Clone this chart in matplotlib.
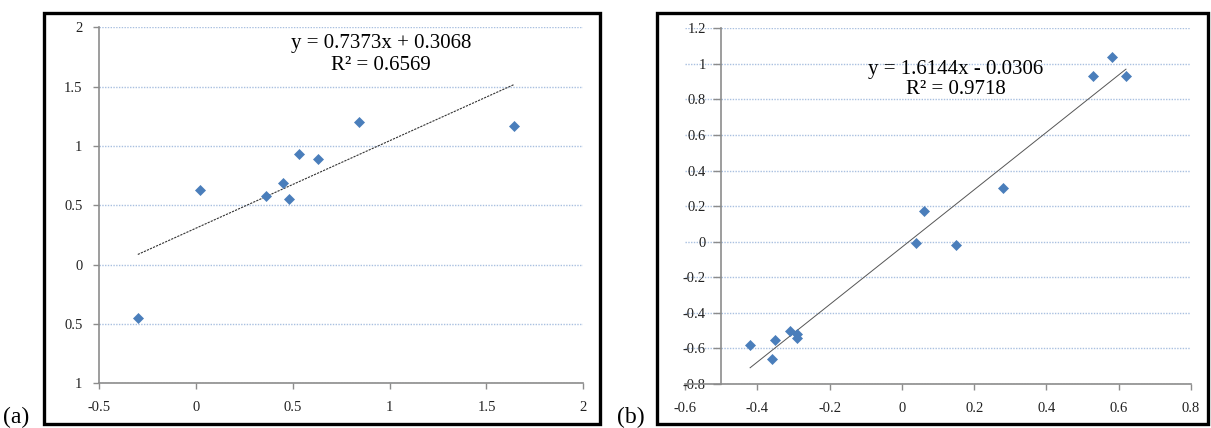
import matplotlib
matplotlib.use("Agg")
import matplotlib.pyplot as plt
from matplotlib.patches import Rectangle
import numpy as np

plt.rcParams['font.family'] = ['Liberation Serif', 'DejaVu Serif']

# panel (a) data
xa = [-0.30, 0.02, 0.36, 0.45, 0.48, 0.53, 0.63, 0.84, 1.64]
ya = [-0.45, 0.63, 0.58, 0.69, 0.55, 0.93, 0.89, 1.20, 1.17]
fit_a = (0.7373, 0.3068)
eq_a = ["y = 0.7373x + 0.3068", "R² = 0.6569"]
xticks_a = [-0.5, 0, 0.5, 1, 1.5, 2]
xlabels_a = ["-0.5", "0", "0.5", "1", "1.5", "2"]
yticks_a = [-1, -0.5, 0, 0.5, 1, 1.5, 2]
ylabels_a = ["1", "0.5", "0", "0.5", "1", "1.5", "2"]

# panel (b) data
xb = [-0.42, -0.36, -0.35, -0.31, -0.29, -0.29, 0.04, 0.06, 0.15, 0.28, 0.53, 0.58, 0.62]
yb = [-0.58, -0.66, -0.55, -0.50, -0.52, -0.54, -0.01, 0.17, -0.02, 0.30, 0.93, 1.04, 0.93]
fit_b = (1.6144, -0.0306)
eq_b = ["y = 1.6144x - 0.0306", "R² = 0.9718"]
xticks_b = [-0.6, -0.4, -0.2, 0, 0.2, 0.4, 0.6, 0.8]
xlabels_b = ["-0.6", "-0.4", "-0.2", "0", "0.2", "0.4", "0.6", "0.8"]
yticks_b = [-0.8, -0.6, -0.4, -0.2, 0, 0.2, 0.4, 0.6, 0.8, 1, 1.2]
ylabels_b = ["-0.8", "-0.6", "-0.4", "-0.2", "0", "0.2", "0.4", "0.6", "0.8", "1", "1.2"]

blue = '#4A7EBB'
grid_col = '#A9C0E0'
axis_col = '#8C8C8C'

fig = plt.figure(figsize=(12.11, 4.28), dpi=100)

def style(ax):
    for s in ['top', 'right']:
        ax.spines[s].set_visible(False)
    for s in ['left', 'bottom']:
        ax.spines[s].set_color(axis_col)
        ax.spines[s].set_linewidth(1.2)
    ax.tick_params(direction='out', color=axis_col, width=1.0, length=4,
                   labelsize=10.5, labelcolor='#222222')
    ax.tick_params(axis='x', pad=9)
    ax.tick_params(axis='y', pad=8)
    ax.yaxis.grid(True, color=grid_col, linestyle=(0, (1, 1)), linewidth=1.0)
    ax.set_axisbelow(True)

ax1 = fig.add_axes([0.0818, 0.1045, 0.3999, 0.8317])
style(ax1)
ax1.set_xlim(-0.5, 2)
ax1.set_ylim(-1, 2)
ax1.set_xticks(xticks_a, xlabels_a)
ax1.set_yticks(yticks_a, ylabels_a)
lx = np.array([min(xa), max(xa)])
ax1.plot(lx, fit_a[0] * lx + fit_a[1], color='#333333', lw=0.8, ls=(0, (2, 1)))
ax1.plot(xa, ya, ls='', marker='D', ms=5, color=blue, mec=blue, mew=0.5)
ax1.text(0.954, 1.865, eq_a[0], ha='center', va='center', fontsize=15)
ax1.text(0.954, 1.682, eq_a[1], ha='center', va='center', fontsize=15)

ax2 = fig.add_axes([0.5657, 0.1028, 0.4178, 0.8311])
style(ax2)
ax2.set_xlim(-0.6, 0.8)
ax2.set_ylim(-0.8, 1.2)
ax2.spines['left'].set_position(('data', -0.5))
ax2.set_xticks(xticks_b, xlabels_b)
ax2.set_yticks(yticks_b, ylabels_b)
ax2.tick_params(axis='y', length=6, pad=5)
lx = np.array([min(xb), max(xb)])
ax2.plot(lx, fit_b[0] * lx + fit_b[1], color='#555555', lw=0.7)
ax2.plot(xb, yb, ls='', marker='D', ms=5, color=blue, mec=blue, mew=0.5)
ax2.text(0.149, 0.970, eq_b[0], ha='center', va='center', fontsize=15)
ax2.text(0.149, 0.856, eq_b[1], ha='center', va='center', fontsize=15)

# chart borders
for x0, x1 in [(44, 600), (657, 1208)]:
    fig.add_artist(Rectangle((x0 / 1211, 1 - 424 / 428), (x1 - x0) / 1211, (424 - 13) / 428,
                             transform=fig.transFigure, fill=False, ec='black', lw=2.4))

fig.text(3 / 1211, 0.0, "(a)", ha='left', va='bottom', fontsize=17)
fig.text(617 / 1211, 0.0, "(b)", ha='left', va='bottom', fontsize=17)

fig.savefig("out.png", dpi=100)
